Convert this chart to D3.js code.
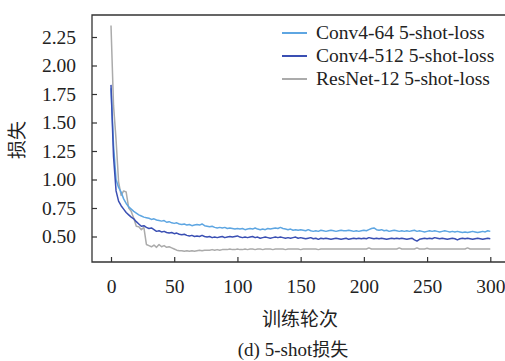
<!DOCTYPE html>
<html>
<head>
<meta charset="utf-8">
<script src="https://cdn.jsdelivr.net/npm/d3@7"></script>
<style>
  body { margin: 0; background: #fff; }
  svg text { font-family: "Liberation Serif", "Times New Roman", serif; fill: #222; }
  .cjk { font-family: "Noto Sans CJK SC", sans-serif; }
</style>
</head>
<body>
<script>
// loss values, one every 2 epochs (0..300)
const epochStep = 2;

const conv4_64 = [
  1.80, 1.30, 1.00, 0.93, 0.89, 0.83, 0.79, 0.76, 0.74, 0.72,
  0.705, 0.69, 0.68, 0.67, 0.665, 0.66, 0.65, 0.655, 0.645, 0.64,
  0.635, 0.64, 0.625, 0.63, 0.62, 0.615, 0.62, 0.61, 0.605, 0.61,
  0.60, 0.605, 0.595, 0.60, 0.605, 0.60, 0.61, 0.595, 0.59, 0.585,
  0.59, 0.58, 0.575, 0.58, 0.575, 0.58, 0.57, 0.575, 0.57, 0.565,
  0.57, 0.565, 0.57, 0.56, 0.565, 0.57, 0.565, 0.575, 0.565, 0.56,
  0.565, 0.56, 0.57, 0.565, 0.57, 0.575, 0.57, 0.58, 0.57, 0.565,
  0.56, 0.565, 0.555, 0.56, 0.555, 0.56, 0.555, 0.55, 0.56, 0.55,
  0.545, 0.55, 0.545, 0.555, 0.55, 0.545, 0.55, 0.555, 0.55, 0.545,
  0.55, 0.555, 0.55, 0.55, 0.555, 0.55, 0.545, 0.55, 0.545, 0.55,
  0.555, 0.55, 0.56, 0.57, 0.575, 0.56, 0.555, 0.56, 0.55, 0.555,
  0.545, 0.55, 0.555, 0.55, 0.545, 0.55, 0.545, 0.55, 0.545, 0.55,
  0.555, 0.545, 0.55, 0.545, 0.54, 0.545, 0.55, 0.545, 0.55, 0.545,
  0.54, 0.545, 0.55, 0.545, 0.54, 0.545, 0.54, 0.545, 0.54, 0.535,
  0.54, 0.535, 0.54, 0.545, 0.54, 0.535, 0.54, 0.545, 0.54, 0.55,
  0.545
];

const conv4_512 = [
  1.83, 1.20, 0.90, 0.81, 0.77, 0.74, 0.71, 0.69, 0.67, 0.655,
  0.63, 0.61, 0.59, 0.595, 0.58, 0.57, 0.575, 0.56, 0.545, 0.55,
  0.54, 0.545, 0.535, 0.53, 0.535, 0.525, 0.53, 0.52, 0.515, 0.52,
  0.51, 0.505, 0.51, 0.50, 0.505, 0.50, 0.51, 0.50, 0.495, 0.50,
  0.49, 0.495, 0.49, 0.495, 0.50, 0.49, 0.495, 0.50, 0.495, 0.50,
  0.505, 0.495, 0.49, 0.495, 0.49, 0.495, 0.50, 0.49, 0.495, 0.485,
  0.49, 0.495, 0.49, 0.485, 0.49, 0.495, 0.49, 0.495, 0.49, 0.485,
  0.49, 0.485, 0.49, 0.495, 0.485, 0.49, 0.485, 0.48, 0.485, 0.49,
  0.48, 0.485, 0.475, 0.485, 0.48, 0.485, 0.48, 0.475, 0.48, 0.485,
  0.48, 0.475, 0.48, 0.485, 0.475, 0.48, 0.485, 0.48, 0.485, 0.48,
  0.485, 0.48, 0.49, 0.485, 0.48, 0.485, 0.48, 0.485, 0.48, 0.475,
  0.48, 0.485, 0.48, 0.485, 0.48, 0.485, 0.48, 0.475, 0.48, 0.485,
  0.47, 0.46, 0.475, 0.48, 0.485, 0.48, 0.485, 0.48, 0.49, 0.485,
  0.48, 0.485, 0.48, 0.475, 0.48, 0.485, 0.48, 0.47, 0.48, 0.485,
  0.48, 0.485, 0.48, 0.475, 0.48, 0.485, 0.48, 0.475, 0.48, 0.485,
  0.48
];

const resnet12 = [
  2.35, 1.65, 1.35, 0.98, 0.86, 0.90, 0.89, 0.75, 0.72, 0.66,
  0.59, 0.585, 0.56, 0.58, 0.43, 0.42, 0.41, 0.425, 0.405, 0.43,
  0.41, 0.42, 0.405, 0.41, 0.40, 0.39, 0.38, 0.375, 0.375, 0.37,
  0.375, 0.37, 0.375, 0.37, 0.375, 0.38, 0.375, 0.38, 0.38, 0.38,
  0.385, 0.38, 0.385, 0.38, 0.385, 0.385, 0.385, 0.39, 0.385, 0.385,
  0.39, 0.385, 0.385, 0.39, 0.385, 0.39, 0.39, 0.385, 0.39, 0.39,
  0.385, 0.39, 0.39, 0.39, 0.385, 0.39, 0.39, 0.39, 0.39, 0.385,
  0.39, 0.39, 0.39, 0.39, 0.39, 0.385, 0.39, 0.39, 0.39, 0.39,
  0.39, 0.39, 0.385, 0.39, 0.39, 0.39, 0.39, 0.39, 0.39, 0.39,
  0.39, 0.39, 0.39, 0.39, 0.39, 0.39, 0.39, 0.39, 0.39, 0.39,
  0.39, 0.39, 0.40, 0.39, 0.39, 0.39, 0.39, 0.39, 0.39, 0.39,
  0.39, 0.39, 0.39, 0.39, 0.40, 0.39, 0.39, 0.39, 0.39, 0.39,
  0.39, 0.40, 0.39, 0.39, 0.39, 0.397, 0.39, 0.39, 0.39, 0.39,
  0.39, 0.39, 0.39, 0.39, 0.39, 0.39, 0.39, 0.39, 0.39, 0.39,
  0.39, 0.40, 0.39, 0.39, 0.39, 0.39, 0.39, 0.39, 0.39, 0.39,
  0.39
];

const seriesNames = ["Conv4-64 5-shot-loss", "Conv4-512 5-shot-loss", "ResNet-12 5-shot-loss"];
const seriesColors = ["#5ea6e2", "#3a4fb3", "#ababab"];
const xTicks = [0, 50, 100, 150, 200, 250, 300];
const yTicks = [0.50, 0.75, 1.00, 1.25, 1.50, 1.75, 2.00, 2.25];

const W = 505, H = 361;
const frame = { left: 92, right: 505, top: 15, bottom: 262 };

const svg = d3.select("body").append("svg")
  .attr("width", W)
  .attr("height", H);

const x = d3.scaleLinear().domain([0, 300]).range([111, 490.3]);
const y = d3.scaleLinear().domain([0.5, 2.25]).range([236.5, 37]);

// lines
const line = d3.line()
  .x((d, i) => x(i * epochStep))
  .y(d => y(d));

const allSeries = [conv4_64, conv4_512, resnet12];
// draw grey underneath, then the two blues
[2, 0, 1].forEach(k => {
  svg.append("path")
    .datum(allSeries[k])
    .attr("fill", "none")
    .attr("stroke", seriesColors[k])
    .attr("stroke-width", 1.5)
    .attr("stroke-linejoin", "round")
    .attr("d", line);
});

// frame: left, top, bottom (right side is cut off)
svg.append("path")
  .attr("fill", "none")
  .attr("stroke", "#333")
  .attr("stroke-width", 1.3)
  .attr("d", `M${frame.right},${frame.top}H${frame.left}V${frame.bottom}H${frame.right}`);

// axes, ticks pointing inward
const yAxis = svg.append("g")
  .attr("transform", `translate(${frame.left},0)`)
  .call(d3.axisLeft(y).tickValues(yTicks).tickFormat(d3.format(".2f"))
    .tickSizeInner(-5).tickSizeOuter(0).tickPadding(16));

const xAxis = svg.append("g")
  .attr("transform", `translate(0,${frame.bottom})`)
  .call(d3.axisBottom(x).tickValues(xTicks).tickFormat(d3.format("d"))
    .tickSizeInner(-5).tickSizeOuter(0).tickPadding(17));

[yAxis, xAxis].forEach(g => {
  g.select(".domain").remove();
  g.selectAll(".tick line").attr("stroke", "#333").attr("stroke-width", 1.2);
  g.selectAll(".tick text")
    .attr("font-family", "Liberation Serif, Times New Roman, serif")
    .attr("font-size", 19.5)
    .attr("fill", "#222");
});

// axis titles
svg.append("text")
  .attr("class", "cjk")
  .attr("x", 300).attr("y", 326)
  .attr("text-anchor", "middle")
  .attr("font-size", 19)
  .text("训练轮次");

svg.append("text")
  .attr("class", "cjk")
  .attr("transform", "translate(24,140) rotate(-90)")
  .attr("text-anchor", "middle")
  .attr("font-size", 19)
  .text("损失");

// caption
const cap = svg.append("text")
  .attr("x", 293).attr("y", 356)
  .attr("text-anchor", "middle")
  .attr("font-size", 19);
cap.append("tspan").text("(d) 5-shot");
cap.append("tspan").attr("class", "cjk").attr("font-size", 18).text("损失");

// legend
const legend = svg.append("g");
seriesNames.forEach((name, i) => {
  const ly = 33 + i * 23;
  legend.append("line")
    .attr("x1", 282).attr("x2", 307)
    .attr("y1", ly).attr("y2", ly)
    .attr("stroke", seriesColors[i])
    .attr("stroke-width", 2);
  legend.append("text")
    .attr("x", 316).attr("y", ly)
    .attr("dy", "0.33em")
    .attr("font-size", 19.5)
    .text(name);
});
</script>
</body>
</html>
